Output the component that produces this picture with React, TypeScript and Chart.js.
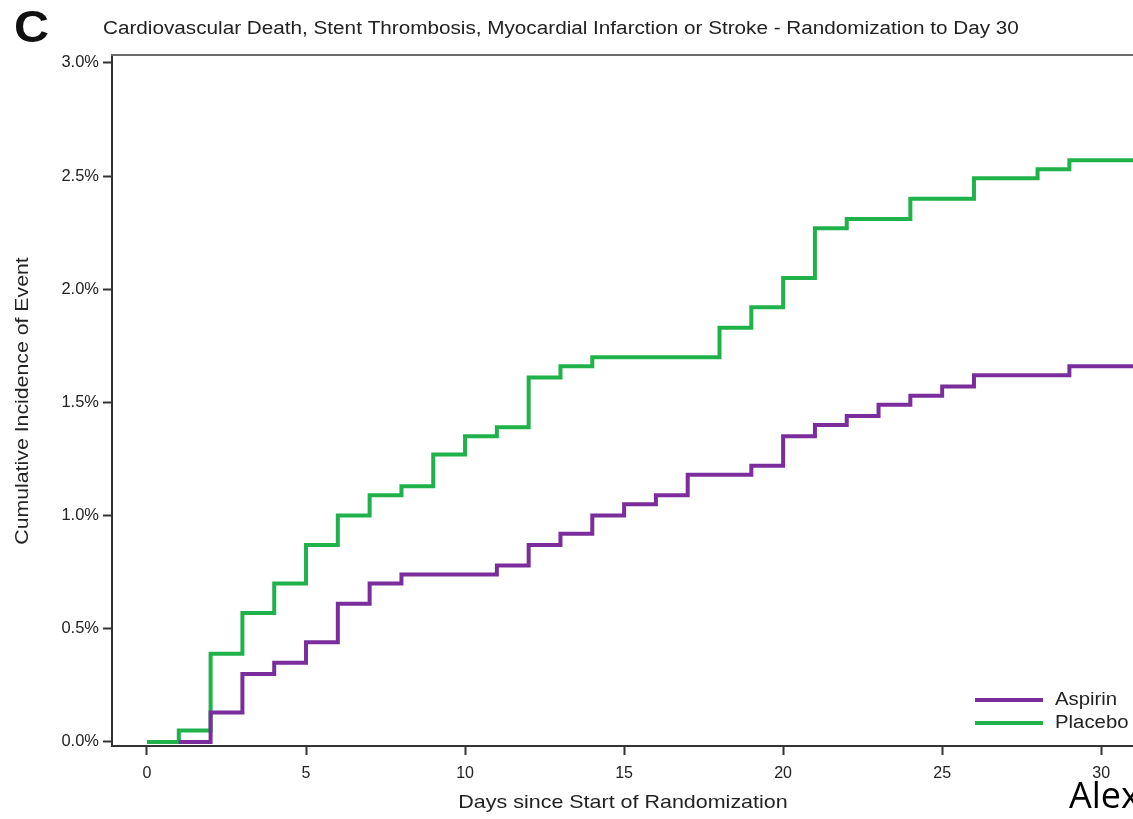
import React, { useEffect, useRef } from "react";
import { Chart, registerables } from "chart.js";

Chart.register(...registerables);

const panelLetter = "C";
const chartTitle =
  "Cardiovascular Death, Stent Thrombosis, Myocardial Infarction or Stroke - Randomization to Day 30";
const xAxisTitle = "Days since Start of Randomization";
const yAxisTitle = "Cumulative Incidence of Event";
const cornerText = "Alex";

const xTickValues = [0, 5, 10, 15, 20, 25, 30];
const yTickValues = [0, 0.5, 1.0, 1.5, 2.0, 2.5, 3.0];

const seriesLabels = ["Aspirin", "Placebo"];
const seriesColors = ["#7b2d9c", "#1fb24a"];

// step change points: day, cumulative incidence (%) from that day onwards
const aspirinDays = [1, 2, 3, 4, 5, 6, 7, 8, 11, 12, 13, 14, 15, 16, 17, 19, 20, 21, 22, 23, 24, 25, 26, 29, 31.2];
const aspirinPct = [0, 0.13, 0.3, 0.35, 0.44, 0.61, 0.7, 0.74, 0.78, 0.87, 0.92, 1.0, 1.05, 1.09, 1.18, 1.22, 1.35, 1.4, 1.44, 1.49, 1.53, 1.57, 1.62, 1.66, 1.66];

const placeboDays = [0, 1, 2, 3, 4, 5, 6, 7, 8, 9, 10, 11, 12, 13, 14, 18, 19, 20, 21, 22, 24, 26, 28, 29, 31.2];
const placeboPct = [0, 0.05, 0.39, 0.57, 0.7, 0.87, 1.0, 1.09, 1.13, 1.27, 1.35, 1.39, 1.61, 1.66, 1.7, 1.83, 1.92, 2.05, 2.27, 2.31, 2.4, 2.49, 2.53, 2.57, 2.57];

const FONT = "'Liberation Sans', Arial, Helvetica, sans-serif";

// draw text stretched horizontally (along its own baseline) by factor sx
function stretchedText(
  ctx: CanvasRenderingContext2D,
  text: string,
  x: number,
  y: number,
  font: string,
  sx: number,
  align: "left" | "center",
  rotation = 0
) {
  ctx.save();
  ctx.font = font;
  ctx.textBaseline = "middle";
  ctx.textAlign = align;
  ctx.translate(x, y);
  if (rotation) ctx.rotate(rotation);
  ctx.scale(sx, 1);
  ctx.fillText(text, 0, 0);
  ctx.restore();
}

const decorPlugin = {
  id: "decor",
  afterDraw(chart: any) {
    const { ctx, chartArea } = chart;
    ctx.save();
    // top frame line
    ctx.strokeStyle = "#6a6a6a";
    ctx.lineWidth = 2;
    ctx.beginPath();
    ctx.moveTo(chartArea.left - 1, chartArea.top);
    ctx.lineTo(chart.width, chartArea.top);
    ctx.stroke();

    // panel letter
    ctx.fillStyle = "#111";
    stretchedText(ctx, panelLetter, 14, 30, `bold 45px ${FONT}`, 1.08, "left");

    // title
    ctx.fillStyle = "#222";
    stretchedText(ctx, chartTitle, 103, 29, `18px ${FONT}`, 1.15, "left");

    // axis titles
    stretchedText(ctx, xAxisTitle, 623, 803, `19px ${FONT}`, 1.13, "center");
    stretchedText(ctx, yAxisTitle, 23, 401, `19px ${FONT}`, 1.12, "center", -Math.PI / 2);

    // legend
    const datasets = chart.data.datasets;
    datasets.forEach((ds: any, i: number) => {
      const y = 700 + i * 23;
      ctx.strokeStyle = ds.borderColor;
      ctx.lineWidth = 4;
      ctx.beginPath();
      ctx.moveTo(975, y);
      ctx.lineTo(1043, y);
      ctx.stroke();
      ctx.fillStyle = "#222";
      stretchedText(ctx, ds.label, 1055, y, `18px ${FONT}`, 1.13, "left");
    });

    // corner text
    ctx.fillStyle = "#000";
    ctx.font = `36px 'Open Sans', sans-serif`;
    ctx.textAlign = "left";
    ctx.textBaseline = "middle";
    ctx.fillText(cornerText, 1069, 798);
    ctx.restore();
  },
};

export default function App() {
  const ref = useRef<HTMLCanvasElement | null>(null);

  useEffect(() => {
    if (!ref.current) return;
    const mk = (days: number[], pct: number[]) => days.map((d, i) => ({ x: d, y: pct[i] }));
    const chart = new Chart(ref.current, {
      type: "line",
      data: {
        datasets: [
          {
            label: seriesLabels[0],
            data: mk(aspirinDays, aspirinPct),
            borderColor: seriesColors[0],
            backgroundColor: seriesColors[0],
            borderWidth: 4,
            pointRadius: 0,
            stepped: "before",
            fill: false,
          },
          {
            label: seriesLabels[1],
            data: mk(placeboDays, placeboPct),
            borderColor: seriesColors[1],
            backgroundColor: seriesColors[1],
            borderWidth: 4,
            pointRadius: 0,
            stepped: "before",
            fill: false,
          },
        ],
      },
      options: {
        animation: false,
        responsive: false,
        devicePixelRatio: 1,
        layout: { padding: { top: 55, left: 0, right: 0, bottom: 0 } },
        plugins: {
          legend: { display: false },
          tooltip: { enabled: false },
          title: { display: false },
        },
        scales: {
          x: {
            type: "linear",
            min: -1.1,
            max: 31.0,
            afterBuildTicks: (scale: any) => {
              scale.ticks = xTickValues.map((v) => ({ value: v }));
            },
            afterFit: (scale: any) => {
              scale.height = 73;
            },
            ticks: {
              color: "#222",
              font: { family: FONT, size: 16 },
              padding: 9,
              maxRotation: 0,
              callback: (v: any) => String(v),
            },
            grid: {
              display: true,
              drawOnChartArea: false,
              drawTicks: true,
              tickLength: 9,
              tickColor: "#333",
              tickWidth: 2,
            },
            border: { display: true, color: "#333", width: 2 },
            title: { display: false },
          },
          y: {
            type: "linear",
            min: -0.018,
            max: 3.035,
            afterBuildTicks: (scale: any) => {
              scale.ticks = yTickValues.map((v) => ({ value: v }));
            },
            afterFit: (scale: any) => {
              scale.width = 112;
            },
            ticks: {
              color: "#222",
              font: { family: FONT, size: 16.5 },
              padding: 4,
              callback: (v: any) => Number(v).toFixed(1) + "%",
            },
            grid: {
              display: true,
              drawOnChartArea: false,
              drawTicks: true,
              tickLength: 9,
              tickColor: "#333",
              tickWidth: 2,
            },
            border: { display: true, color: "#333", width: 2 },
            title: { display: false },
          },
        },
      },
      plugins: [decorPlugin],
    });
    return () => chart.destroy();
  }, []);

  return (
    <div style={{ position: "absolute", left: 0, top: 0, width: 1133, height: 819, background: "#fff" }}>
      <canvas ref={ref} width={1133} height={819} style={{ display: "block" }} />
    </div>
  );
}
